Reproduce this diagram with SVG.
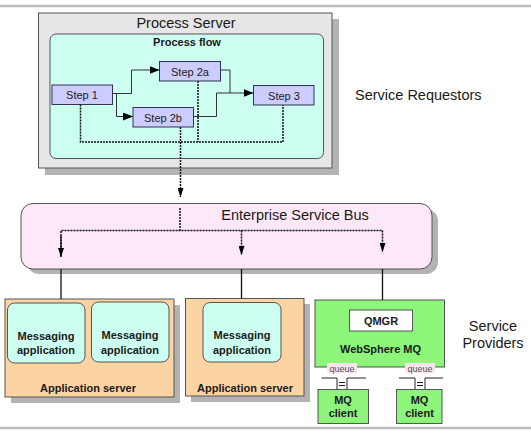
<svg xmlns="http://www.w3.org/2000/svg" width="531" height="432" viewBox="0 0 531 432">
<defs>
<style>
.t{font-family:"Liberation Sans",Arial,sans-serif;fill:#1a1a1a}
.big{font-size:14.5px}
.b{font-size:11px;font-weight:bold}
.s{font-size:11px}
.q{font-size:9px;fill:#555}
.shadow{fill:#b3b3b3}
.step{fill:#ccccff;stroke:#333355;stroke-width:1}
.flow{fill:none;stroke:#333;stroke-width:1}
.dot{fill:none;stroke:#111;stroke-width:1.5;stroke-dasharray:2 1}
.solid{fill:none;stroke:#111;stroke-width:1.3}
.msg{fill:#ccfff0;stroke:#555;stroke-width:1}
.app{fill:#fcd3a2;stroke:#555;stroke-width:1}
.green{fill:#8cf57a;stroke:#555;stroke-width:1}
</style>
<marker id="ah" viewBox="0 0 10 8" refX="10" refY="4" markerWidth="10" markerHeight="8" markerUnits="userSpaceOnUse" orient="auto">
<path d="M0,0 L10,4 L0,8 Z" fill="#000"/>
</marker>
<marker id="dh" viewBox="0 0 9 6" refX="9" refY="3" markerWidth="9" markerHeight="6" markerUnits="userSpaceOnUse" orient="auto">
<path d="M0,0 L9,3 L0,6 Z" fill="#000"/>
</marker>
</defs>
<rect x="0" y="0" width="531" height="432" fill="#fff"/>
<line x1="0" y1="6" x2="531" y2="6" stroke="#bbb" stroke-width="2.5"/>
<line x1="0" y1="428" x2="531" y2="428" stroke="#bbb" stroke-width="2.5"/>

<g id="process-server">
<rect class="shadow" x="45" y="19" width="294" height="156"/>
<rect x="38.5" y="13" width="293.5" height="155" fill="#e6e6e6" stroke="#555" stroke-width="1"/>
<text class="t big" x="186" y="28" text-anchor="middle">Process Server</text>
</g>
<g id="process-flow">
<rect x="50" y="34" width="273.5" height="124.5" rx="6" fill="#ccfff0" stroke="#555" stroke-width="1"/>
<text class="t b" x="187" y="46" text-anchor="middle">Process flow</text>
</g>
<g id="step1"><rect class="step" x="52" y="85" width="60.5" height="19.5"/><text class="t s" x="82" y="99" text-anchor="middle">Step 1</text></g>
<g id="step2a"><rect class="step" x="159.5" y="61.5" width="61" height="19.5"/><text class="t s" x="190" y="75.5" text-anchor="middle">Step 2a</text></g>
<g id="step2b"><rect class="step" x="133" y="107.5" width="60.5" height="19.5"/><text class="t s" x="163" y="121.5" text-anchor="middle">Step 2b</text></g>
<g id="step3"><rect class="step" x="253.5" y="85.5" width="60.5" height="19.5"/><text class="t s" x="284" y="99.5" text-anchor="middle">Step 3</text></g>

<g id="service-requestors"><text class="t big" x="355" y="100">Service Requestors</text></g>

<g id="esb">
<rect class="shadow" x="27" y="209" width="411" height="65" rx="12"/>
<rect x="21" y="203.5" width="411" height="65.5" rx="12" fill="#fde8f9" stroke="#555" stroke-width="1"/>
<text class="t big" x="295" y="220" text-anchor="middle">Enterprise Service Bus</text>
</g>

<g id="app-server-1">
<rect class="shadow" x="11" y="305" width="169" height="98"/>
<rect class="app" x="5" y="299" width="169" height="98"/>
<text class="t b" x="88" y="392" text-anchor="middle">Application server</text>
</g>
<g id="messaging-1"><rect class="msg" x="7.5" y="303" width="77.5" height="60" rx="7"/><text class="t b" x="46" y="339.5" text-anchor="middle">Messaging</text><text class="t b" x="46" y="354" text-anchor="middle">application</text></g>
<g id="messaging-2"><rect class="msg" x="91.5" y="302" width="77.5" height="60" rx="7"/><text class="t b" x="130" y="339" text-anchor="middle">Messaging</text><text class="t b" x="130" y="353.5" text-anchor="middle">application</text></g>

<g id="app-server-2">
<rect class="shadow" x="191" y="304" width="119" height="98"/>
<rect class="app" x="185.5" y="298.5" width="118.5" height="97.5"/>
<text class="t b" x="245" y="392" text-anchor="middle">Application server</text>
</g>
<g id="messaging-3"><rect class="msg" x="203" y="302.5" width="78" height="59.5" rx="7"/><text class="t b" x="242" y="339" text-anchor="middle">Messaging</text><text class="t b" x="242" y="353.5" text-anchor="middle">application</text></g>

<g id="websphere-mq">
<rect class="green" x="315" y="300" width="129.5" height="67"/>
<rect x="349.5" y="310" width="63" height="21" fill="#fff" stroke="#555" stroke-width="1"/>
<text class="t b" x="381" y="324.5" text-anchor="middle">QMGR</text>
<text class="t b" x="380.5" y="352.5" text-anchor="middle">WebSphere MQ</text>
</g>

<g id="queue-1">
<rect x="327" y="363" width="30" height="10" fill="#fbe4ec"/>
<text class="t q" x="342" y="371.5" text-anchor="middle">queue</text>
<path d="M321.5,378 H337 V389 M347,389 V378 H366" fill="none" stroke="#222" stroke-width="1"/>
<path d="M339,382.5 H345 M339,385.5 H345" fill="none" stroke="#222" stroke-width="1"/>
</g>
<g id="queue-2">
<rect x="405" y="363" width="30" height="10" fill="#fbe4ec"/>
<text class="t q" x="420" y="371.5" text-anchor="middle">queue</text>
<path d="M399,378 H415 V389 M425,389 V378 H443" fill="none" stroke="#222" stroke-width="1"/>
<path d="M417,382.5 H423 M417,385.5 H423" fill="none" stroke="#222" stroke-width="1"/>
</g>
<g id="mq-client-1"><rect class="green" x="318" y="389.5" width="50.5" height="34"/><text class="t b" x="343" y="403.5" text-anchor="middle">MQ</text><text class="t b" x="343" y="417" text-anchor="middle">client</text></g>
<g id="mq-client-2"><rect class="green" x="396.5" y="389.5" width="45.5" height="34"/><text class="t b" x="419.5" y="403.5" text-anchor="middle">MQ</text><text class="t b" x="419.5" y="417" text-anchor="middle">client</text></g>

<g id="service-providers">
<text class="t big" x="493" y="331" text-anchor="middle">Service</text>
<text class="t big" x="493" y="348" text-anchor="middle">Providers</text>
</g>

<g id="connectors">
<path class="flow" d="M112.5,93.5 H131.5 V70 H159.5" marker-end="url(#ah)"/>
<path class="flow" d="M116.5,93.5 V116.5 H133" marker-end="url(#ah)"/>
<path class="flow" d="M220.5,70 H230 V93 H253.5" marker-end="url(#ah)"/>
<path class="flow" d="M193.5,116.5 H216.5 V93 H230"/>
<path class="dot" d="M80.5,104.5 V142 H283 V105"/>
<path class="dot" d="M198,81 V142"/>
<path class="dot" d="M180.5,127 V197" marker-end="url(#dh)"/>
<path class="dot" d="M180,208 V230.5"/>
<path class="dot" d="M61,257 V230.5 H382.5 V252" marker-end="url(#dh)"/>
<path class="dot" d="M61,236 V257" marker-end="url(#dh)"/>
<path class="dot" d="M241.5,230.5 V255" marker-end="url(#dh)"/>
<path class="solid" d="M61,269 V299"/>
<path class="solid" d="M241.5,269 V298.5"/>
<path class="solid" d="M382.5,269 V300"/>
</g>
</svg>
